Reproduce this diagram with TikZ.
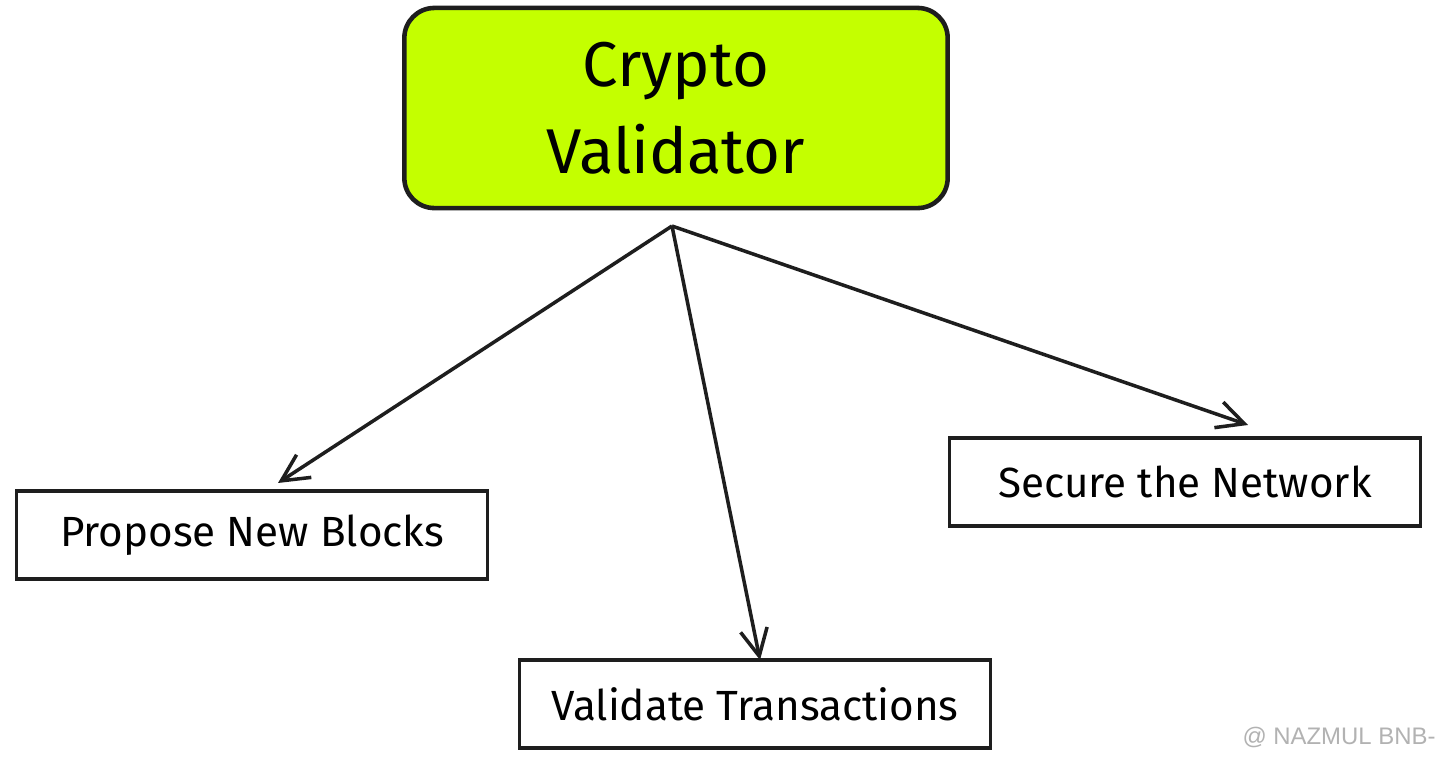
\documentclass[tikz,border=0pt]{standalone}
\usepackage{fontspec}
\setmainfont{Fira Sans}
\newfontfamily\markfont{Liberation Sans}
\usetikzlibrary{arrows.meta}
\definecolor{lime}{HTML}{C4FF00}
\definecolor{ink}{HTML}{1E1E1E}

\begin{document}
\begin{tikzpicture}[x=0.01cm,y=-0.01cm,inner sep=0pt,outer sep=0pt,
mainblock/.style={draw=ink,fill=lime,rectangle,rounded corners=0.3cm,line width=1.3pt,minimum width=5.43cm,minimum height=2cm,align=center,font=\fontsize{18}{24.7}\selectfont},
taskbox/.style={draw=ink,rectangle,line width=0.9pt,minimum width=4.7cm,minimum height=0.88cm,font=\fontsize{12}{14}\selectfont},
flow/.style={draw=ink,line width=1pt,-{Straight Barb[length=0.27cm,width=0.27cm]}}]

\fill[white] (0,0) rectangle (1440,760);
\useasboundingbox (0,0) rectangle (1440,760);

\draw (676,108) node[mainblock] (validator) {Crypto\\Validator};
\draw (252,535) node[taskbox] (propose) {Propose New Blocks};
\draw (755,704) node[taskbox] (validate) {Validate Transactions};
\draw (1185,482) node[taskbox] (secure) {Secure the Network};
\coordinate (hub) at (672,226);

\draw[flow] (hub) -- ([xshift=0.26cm,yshift=0.08cm]propose.north);
\draw[flow] (hub) -- ([xshift=0.05cm]validate.north);
\draw[flow] (hub) -- ([xshift=0.63cm,yshift=0.13cm]secure.north);

\draw (1339,737) node[text=black!30,font=\markfont\fontsize{6.8}{8}\selectfont] (mark) {@ NAZMUL BNB-};
\end{tikzpicture}
\end{document}
